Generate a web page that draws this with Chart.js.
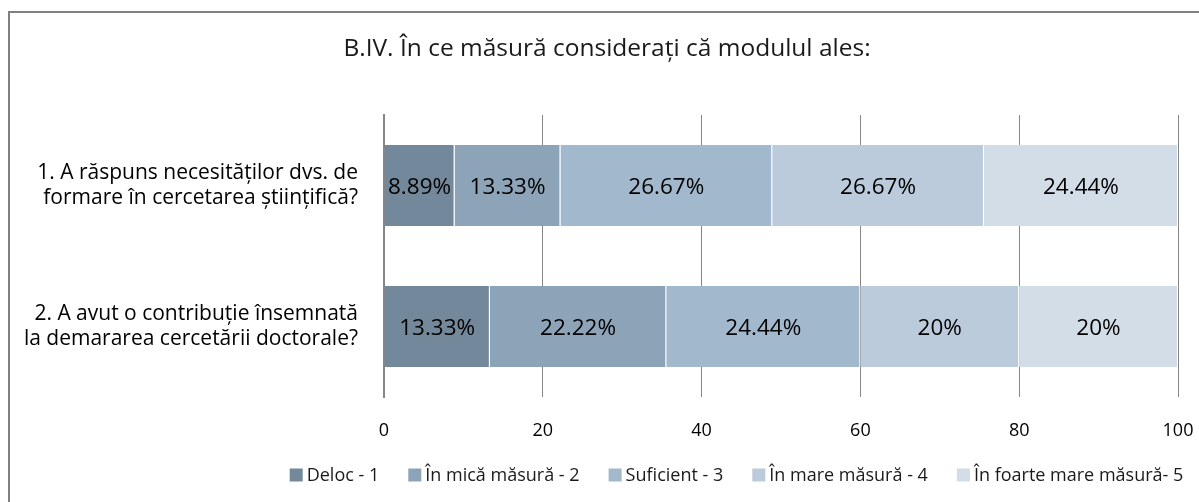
<!DOCTYPE html>
<html><head><meta charset="utf-8">
<script src="https://cdn.jsdelivr.net/npm/chart.js@4/dist/chart.umd.min.js"></script>
<style>
html,body{margin:0;padding:0;background:#fff;overflow:hidden;}
#wrap{position:relative;width:1199px;height:502px;}
#frame{position:absolute;left:8px;top:11px;width:1300px;height:600px;border-left:2px solid #808080;border-top:2px solid #808080;box-sizing:border-box;}
canvas{position:absolute;left:0;top:0;}
</style></head>
<body><div id="wrap"><div id="frame"></div><canvas id="c" width="1199" height="502"></canvas></div>
<script>
const titleText = "B.IV. În ce măsură considerați că modulul ales:";
const categories = [
  ["1. A răspuns necesităților dvs. de", "formare în cercetarea științifică?"],
  ["2. A avut o contribuție însemnată", "la demararea cercetării doctorale?"]
];
const seriesNames = ["Deloc - 1", "În mică măsură - 2", "Suficient - 3", "În mare măsură - 4", "În foarte mare măsură- 5"];
const deloc = [8.89, 13.33];
const mica = [13.33, 22.22];
const suficient = [26.67, 24.44];
const mare = [26.67, 20];
const foarteMare = [24.44, 20];
const xTicks = [0, 20, 40, 60, 80, 100];
const colors = ["#73889a", "#8da4b8", "#a2b8cd", "#bccbdb", "#d3dde7"];

const FONT = "'Open Sans', sans-serif";
const allSeries = [deloc, mica, suficient, mare, foarteMare];

const labelPlugin = {
  id: 'barLabels',
  afterDatasetsDraw(chart) {
    const ctx = chart.ctx;
    ctx.save();
    ctx.font = "22.5px " + FONT;
    ctx.fillStyle = "#000";
    ctx.textAlign = "center";
    ctx.textBaseline = "middle";
    chart.data.datasets.forEach((ds, i) => {
      const meta = chart.getDatasetMeta(i);
      meta.data.forEach((bar, j) => {
        const v = ds.data[j];
        const cx = (bar.x + bar.base) / 2;
        ctx.fillText(String(+v.toFixed(2)) + "%", cx, bar.y + 2);
      });
    });
    ctx.restore();
  }
};

const titleLegendPlugin = {
  id: 'titleLegend',
  afterDraw(chart) {
    const ctx = chart.ctx;
    ctx.save();
    ctx.font = "24.5px " + FONT;
    ctx.fillStyle = "#1a1a1a";
    ctx.textAlign = "center";
    ctx.textBaseline = "middle";
    ctx.fillText(titleText, 607, 49);
    ctx.font = "18px " + FONT;
    ctx.textAlign = "left";
    const box = 13, gap = 4, spacing = 29;
    const widths = seriesNames.map(n => ctx.measureText(n).width);
    const total = widths.reduce((a, b) => a + b, 0) + seriesNames.length * (box + gap) + (seriesNames.length - 1) * spacing;
    let x = 736.5 - total / 2;
    const y = 475;
    seriesNames.forEach((n, i) => {
      ctx.fillStyle = colors[i];
      ctx.fillRect(x, y - box / 2, box, box);
      x += box + gap;
      ctx.fillStyle = "#1a1a1a";
      ctx.fillText(n, x, y + 1);
      x += widths[i] + spacing;
    });
    ctx.restore();
  }
};

new Chart(document.getElementById('c'), {
  type: 'bar',
  data: {
    labels: categories,
    datasets: seriesNames.map((n, i) => ({
      label: n,
      data: allSeries[i],
      backgroundColor: colors[i],
      borderColor: "rgba(255,255,255,0.45)",
      borderWidth: { right: 1, left: 0, top: 0, bottom: 0 },
      borderSkipped: false,
      barPercentage: 0.574,
      categoryPercentage: 1.0
    }))
  },
  options: {
    indexAxis: 'y',
    responsive: false,
    animation: false,
    layout: { padding: { top: 115, right: 21, left: 0, bottom: 55 } },
    plugins: {
      title: { display: false },
      legend: { display: false },
      tooltip: { enabled: false }
    },
    scales: {
      x: {
        stacked: true,
        min: 0, max: 100,
        afterBuildTicks(scale) { scale.ticks = xTicks.map(v => ({ value: v })); },
        afterFit(scale) { scale.height = 50; scale.paddingRight = 0; scale.paddingLeft = 0; },
        ticks: { color: "#000", font: { family: FONT, size: 18 }, padding: 23 },
        grid: { color: "#868686", lineWidth: 1, drawTicks: false },
        border: { display: false }
      },
      y: {
        stacked: true,
        afterFit(scale) { scale.width = 384; },
        ticks: { color: "#000", font: { family: FONT, size: 21 }, padding: 18 },
        grid: { display: false },
        border: { display: true, color: "#868686", width: 2 }
      }
    }
  },
  plugins: [labelPlugin, titleLegendPlugin]
});
</script></body></html>
